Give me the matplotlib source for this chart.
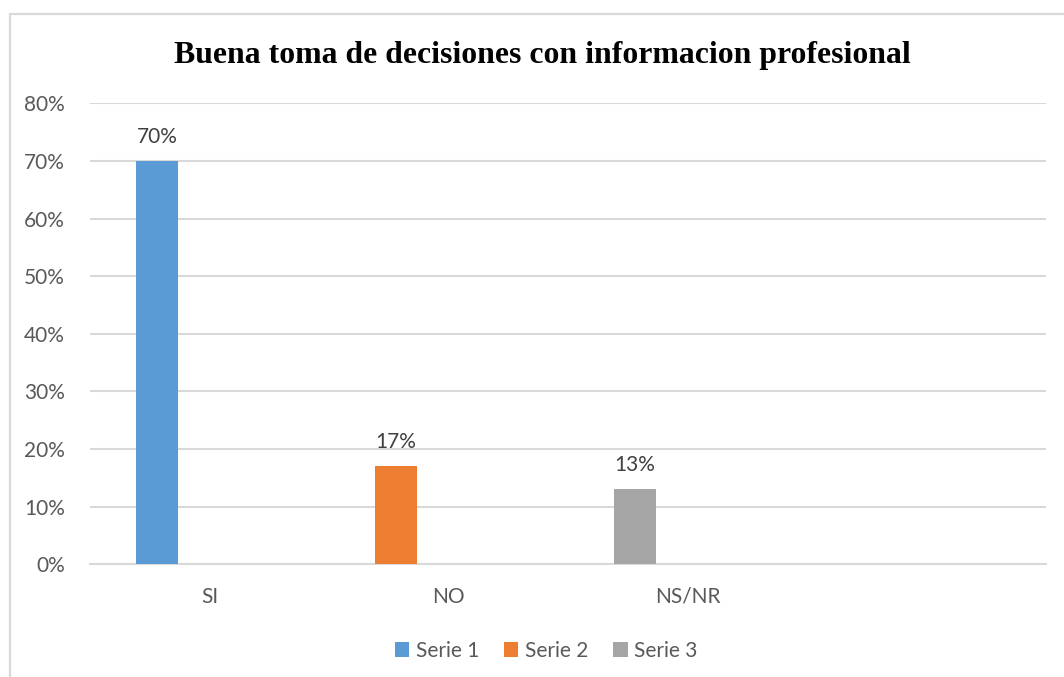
import matplotlib
matplotlib.use("Agg")
import matplotlib.pyplot as plt
from matplotlib.patches import Rectangle
from matplotlib.ticker import FuncFormatter

title = "Buena toma de decisiones con informacion profesional"
categories = ["SI", "NO", "NS/NR", ""]
series_names = ["Serie 1", "Serie 2", "Serie 3"]
series_values = [70, 17, 13]          # percent, one value per series
series_category = [0, 1, 2]           # index of the category each series belongs to
colors = ["#5B9BD5", "#ED7D31", "#A5A5A5"]
yticks = [0, 10, 20, 30, 40, 50, 60, 70, 80]

W, H = 1064, 677
fig = plt.figure(figsize=(W / 100, H / 100), dpi=100)
fig.patch.set_facecolor("white")

# outer chart border (cropped at right/bottom)
fig.patches.append(Rectangle((9.5 / W, -0.1), 2.0, 1 - 13.5 / H + 0.1,
                             transform=fig.transFigure, fill=False,
                             edgecolor="#d9d9d9", linewidth=1.6))

left, right = 90 / W, 1046 / W
top, bottom = 1 - 103.3 / H, 1 - 564.3 / H
ax = fig.add_axes([left, bottom, right - left, top - bottom])

txt = "#595959"
font = "Lato"
fs = 15

offset = -0.22
width = 0.176
handles = []
for name, val, cat, col in zip(series_names, series_values, series_category, colors):
    b = ax.bar(cat + offset, val, width=width, color=col, label=name, zorder=3)
    handles.append(b)
    ax.annotate(f"{val}%", (cat + offset, val), xytext=(0, 10),
                textcoords="offset points", ha="center", va="bottom",
                color="#404040", fontsize=fs, family=font)

ax.set_xlim(-0.5, len(categories) - 0.5)
ax.set_ylim(0, 80)
ax.set_yticks(yticks)
ax.yaxis.set_major_formatter(FuncFormatter(lambda v, p: f"{int(v)}%"))
ax.set_xticks(range(len(categories)))
ax.set_xticklabels(categories)
ax.grid(axis="y", color="#d9d9d9", linewidth=1.5, zorder=0)
ax.set_axisbelow(True)
for s in ["top", "right", "left"]:
    ax.spines[s].set_visible(False)
ax.spines["bottom"].set_color("#d9d9d9")
ax.spines["bottom"].set_linewidth(1.5)
ax.tick_params(axis="both", length=0, colors=txt, labelsize=fs)
ax.tick_params(axis="x", pad=16)
ax.tick_params(axis="y", pad=18)
for lab in ax.get_xticklabels() + ax.get_yticklabels():
    lab.set_family(font)

fig.text(542 / W, 1 - 56 / H, title, ha="center", va="center",
         family="Liberation Serif", fontweight="bold", fontsize=22.9, color="black")

leg = fig.legend(handles=handles, loc="center", bbox_to_anchor=(546 / W, 1 - 651 / H),
                 ncol=3, frameon=False, handlelength=0.7, handleheight=0.7,
                 handletextpad=0.3, columnspacing=1.2,
                 prop={"family": font, "size": fs})
for t in leg.get_texts():
    t.set_color(txt)

fig.savefig("out.png", dpi=100)
